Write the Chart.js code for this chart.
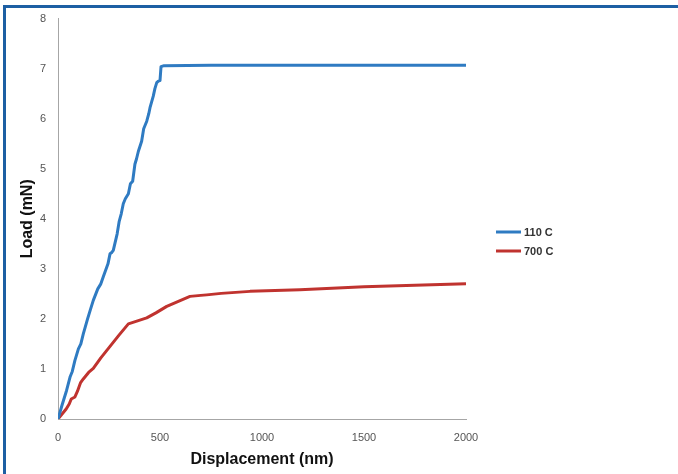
<!DOCTYPE html>
<html>
<head>
<meta charset="utf-8">
<script src="https://cdn.jsdelivr.net/npm/chart.js@4.4.1/dist/chart.umd.min.js"></script>
<style>
  html, body { margin: 0; padding: 0; background: #fff; }
  #wrap { position: relative; width: 678px; height: 474px; overflow: hidden; }
  #frame { position: absolute; left: 3px; top: 5px; right: -10px; bottom: -10px;
           border-top: 3px solid #1d5fa3; border-left: 3px solid #1d5fa3; pointer-events: none; }
  canvas { position: absolute; left: 0; top: 0; }
</style>
</head>
<body>
<div id="wrap">
  <canvas id="loadChart" width="678" height="474"></canvas>
  <div id="frame"></div>
</div>
<script>
// values
const seriesNames = ['110 C', '700 C'];
const seriesColors = ['#2f7bc2', '#c0332f'];

// displacement (nm) / load (mN), 110 C
const disp110 = [0, 20, 42, 60, 70, 83, 100, 112, 124, 145, 160, 173, 195, 210, 222, 245, 255, 262, 271,
  290, 300, 310, 320, 330, 345, 355, 366, 377, 385, 394, 410, 420, 435, 445, 451, 467, 475, 484, 492, 500,
  505, 520, 750, 1000, 1500, 2000];
const load110 = [0, 0.28, 0.57, 0.85, 0.95, 1.17, 1.4, 1.5, 1.7, 2.0, 2.2, 2.37, 2.6, 2.7, 2.84, 3.1, 3.3, 3.32, 3.37,
  3.7, 3.95, 4.1, 4.3, 4.4, 4.5, 4.7, 4.75, 5.09, 5.2, 5.35, 5.55, 5.8, 5.95, 6.1, 6.22, 6.45, 6.6, 6.72, 6.75, 6.76,
  7.04, 7.06, 7.07, 7.07, 7.07, 7.07];

// displacement (nm) / load (mN), 700 C
const disp700 = [0, 20, 40, 55, 65, 83, 95, 110, 124, 150, 173, 210, 255, 300, 345, 390, 435, 480, 533,
  590, 647, 700, 729, 800, 941, 1186, 1500, 2000];
const load700 = [0, 0.1, 0.2, 0.3, 0.4, 0.44, 0.55, 0.72, 0.8, 0.93, 1.01, 1.22, 1.45, 1.68, 1.9, 1.96, 2.02, 2.12, 2.25,
  2.35, 2.45, 2.47, 2.48, 2.51, 2.55, 2.58, 2.64, 2.7];

const xTicks = [0, 500, 1000, 1500, 2000];
const yTicks = [0, 1, 2, 3, 4, 5, 6, 7, 8];

const toPoints = (xs, ys) => xs.map((x, i) => ({ x: x, y: ys[i] }));

const sideLegend = {
  id: 'sideLegend',
  afterDraw(chart) {
    const ctx = chart.ctx;
    ctx.save();
    ctx.font = 'bold 11px "Liberation Sans", Arial, sans-serif';
    ctx.textBaseline = 'middle';
    chart.data.datasets.forEach((ds, i) => {
      const y = 232 + i * 19;
      ctx.strokeStyle = ds.borderColor;
      ctx.lineWidth = 3;
      ctx.beginPath();
      ctx.moveTo(496, y);
      ctx.lineTo(521, y);
      ctx.stroke();
      ctx.fillStyle = '#333';
      ctx.fillText(ds.label, 524, y + 0.5);
    });
    ctx.restore();
  }
};

const tickFont = { family: '"Liberation Sans", Arial', size: 11 };
const titleFont = { family: '"Liberation Sans", Arial', size: 16, weight: 'bold' };

new Chart(document.getElementById('loadChart'), {
  type: 'line',
  data: {
    datasets: [
      { label: seriesNames[0], data: toPoints(disp110, load110), borderColor: seriesColors[0], borderWidth: 3,
        pointRadius: 0, tension: 0, borderJoinStyle: 'round', fill: false },
      { label: seriesNames[1], data: toPoints(disp700, load700), borderColor: seriesColors[1], borderWidth: 3,
        pointRadius: 0, tension: 0, borderJoinStyle: 'round', fill: false }
    ]
  },
  options: {
    responsive: false,
    animation: false,
    layout: { padding: { left: 0, top: 18, right: 212, bottom: 0 } },
    plugins: { legend: { display: false }, tooltip: { enabled: false } },
    scales: {
      x: {
        type: 'linear', min: 0, max: 2000,
        afterBuildTicks: s => { s.ticks = xTicks.map(v => ({ value: v })); },
        afterFit: s => { s.height = 55; },
        grid: { display: false, drawTicks: false },
        border: { display: true, color: '#a6a6a6', width: 1 },
        ticks: { padding: 12, color: '#555', font: tickFont, maxRotation: 0, callback: v => String(v) },
        title: { display: true, text: 'Displacement (nm)', color: '#111', font: titleFont, padding: { top: 0, bottom: 5 } }
      },
      y: {
        type: 'linear', min: 0, max: 8,
        afterBuildTicks: s => { s.ticks = yTicks.map(v => ({ value: v })); },
        afterFit: s => { s.width = 58; },
        grid: { display: false, drawTicks: false },
        border: { display: true, color: '#a6a6a6', width: 1 },
        ticks: { padding: 12, color: '#555', font: tickFont, callback: v => String(v) },
        title: { display: true, text: 'Load (mN)', color: '#111', font: titleFont, padding: { top: 18, bottom: 0 } }
      }
    }
  },
  plugins: [sideLegend]
});
</script>
</body>
</html>
